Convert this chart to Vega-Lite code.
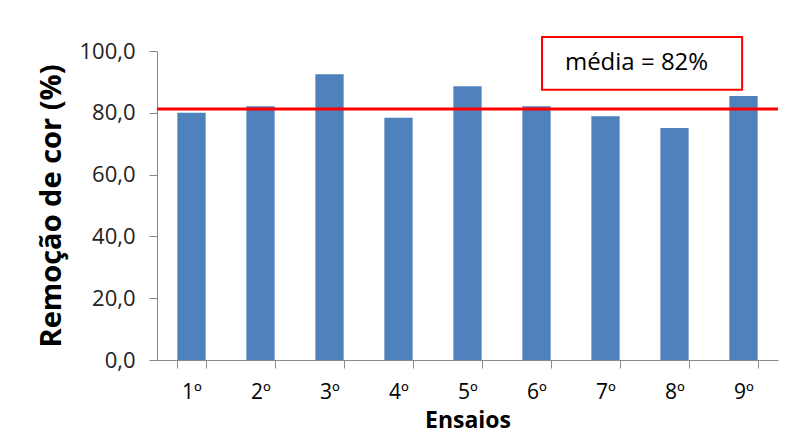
{
  "$schema": "https://vega.github.io/schema/vega-lite/v6.json",
  "autosize": "none",
  "width": 621,
  "height": 309,
  "padding": {"left": 157, "top": 51, "right": 32, "bottom": 77},
  "background": "white",
  "config": {"view": {"stroke": null}, "font": "Open Sans"},
  "datasets": {
    "bars": [
      {"ensaio": "1º", "remocao": 80.0},
      {"ensaio": "2º", "remocao": 82.1},
      {"ensaio": "3º", "remocao": 92.5},
      {"ensaio": "4º", "remocao": 78.4},
      {"ensaio": "5º", "remocao": 88.6},
      {"ensaio": "6º", "remocao": 82.1},
      {"ensaio": "7º", "remocao": 78.9},
      {"ensaio": "8º", "remocao": 75.1},
      {"ensaio": "9º", "remocao": 85.4}
    ],
    "media": [{"valor": 81.2}],
    "box": [{"x1": 5.58, "x2": 8.48, "y1": 87.5, "y2": 104.5, "xt": 6.95, "yt": 96, "label": "média = 82%"}]
  },
  "layer": [
    {
      "data": {"name": "bars"},
      "mark": {"type": "bar", "color": "#4F81BD"},
      "encoding": {
        "x": {
          "field": "ensaio", "type": "nominal", "sort": null,
          "scale": {"paddingInner": 0.59, "paddingOuter": 0.295},
          "axis": {
            "title": "Ensaios", "titleFont": "Open Sans", "titleFontSize": 23, "titleFontWeight": "bold", "titleColor": "#000",
            "titlePadding": 7,
            "labelAngle": 0, "labelFont": "Open Sans", "labelFontSize": 21, "labelColor": "#000", "labelPadding": 13,
            "tickBand": "extent", "tickSize": 8, "tickColor": "#888", "domainColor": "#888"
          }
        },
        "y": {
          "field": "remocao", "type": "quantitative",
          "scale": {"domain": [0, 100]},
          "axis": {
            "title": "Remoção de cor (%)", "titleFont": "Open Sans", "titleFontSize": 29, "titleFontWeight": "bold", "titleColor": "#000",
            "titlePadding": 12,
            "values": [0, 20, 40, 60, 80, 100],
            "labelExpr": "replace(format(datum.value, '.1f'), '.', ',')",
            "labelFont": "Open Sans", "labelFontSize": 22, "labelColor": "#222", "labelPadding": 14,
            "grid": false, "tickSize": 8, "tickColor": "#888", "domainColor": "#888"
          }
        }
      }
    },
    {
      "data": {"name": "media"},
      "mark": {"type": "rule", "color": "#FF0000", "strokeWidth": 3},
      "encoding": {"y": {"field": "valor", "type": "quantitative"}}
    },
    {
      "data": {"name": "box"},
      "layer": [
        {
          "mark": {"type": "rect", "fill": "white", "stroke": "#FF0000", "strokeWidth": 2, "clip": false},
          "encoding": {
            "x": {"field": "x1", "type": "quantitative", "scale": {"domain": [0, 9]}, "axis": null},
            "x2": {"field": "x2"},
            "y": {"field": "y1", "type": "quantitative"},
            "y2": {"field": "y2"}
          }
        },
        {
          "mark": {"type": "text", "fontSize": 24, "font": "Open Sans", "color": "#000", "align": "center", "baseline": "middle"},
          "encoding": {
            "x": {"field": "xt", "type": "quantitative", "scale": {"domain": [0, 9]}, "axis": null},
            "y": {"field": "yt", "type": "quantitative"},
            "text": {"field": "label"}
          }
        }
      ]
    }
  ],
  "resolve": {"scale": {"x": "independent"}}
}
